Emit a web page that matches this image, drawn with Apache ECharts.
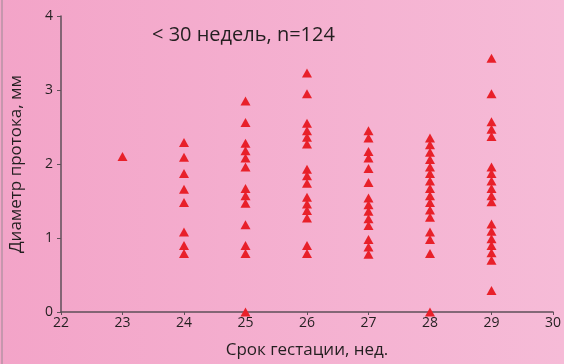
<!DOCTYPE html>
<html><head><meta charset="utf-8">
<script src="https://cdn.jsdelivr.net/npm/echarts@6/dist/echarts.min.js"></script>
<style>html,body{margin:0;padding:0;}#c{width:564px;height:364px;}</style>
</head><body><div id="c"></div>
<script>
const weeks = [23, 24, 25, 26, 27, 28, 29];
const w23 = [2.1];
const w24 = [2.29, 2.09, 1.87, 1.66, 1.48, 1.08, 0.9, 0.79];
const w25 = [2.85, 2.56, 2.28, 2.18, 2.08, 1.96, 1.67, 1.57, 1.47, 1.18, 0.9, 0.79, 0];
const w26 = [3.23, 2.95, 2.55, 2.45, 2.36, 2.27, 1.93, 1.84, 1.74, 1.55, 1.46, 1.37, 1.27, 0.9, 0.79];
const w27 = [2.45, 2.35, 2.17, 2.08, 1.94, 1.75, 1.54, 1.45, 1.36, 1.26, 1.17, 0.98, 0.88, 0.78];
const w28 = [2.35, 2.26, 2.16, 2.06, 1.96, 1.87, 1.77, 1.67, 1.57, 1.48, 1.38, 1.28, 1.08, 0.98, 0.79, 0];
const w29 = [3.43, 2.95, 2.57, 2.47, 2.37, 1.96, 1.87, 1.77, 1.67, 1.57, 1.49, 1.19, 1.09, 0.99, 0.9, 0.8, 0.7, 0.29];
const groups = [w23, w24, w25, w26, w27, w28, w29];
const titleText = '< 30 недель, n=124';
const xName = 'Срок гестации, нед.';
const yName = 'Диаметр протока, мм';

const points = [];
groups.forEach((g, i) => g.forEach(v => points.push([weeks[i], v])));

const font = '"Open Sans", "Noto Sans", sans-serif';
const chart = echarts.init(document.getElementById('c'), null, {renderer: 'canvas'});
chart.setOption({
  backgroundColor: new echarts.graphic.LinearGradient(0, 0, 1, 0, [
    {offset: 0, color: '#f3a4c8'},
    {offset: 1, color: '#f6bbd7'}
  ]),
  animation: false,
  title: {
    text: titleText, left: 147, top: 20,
    textStyle: {fontFamily: font, fontSize: 20, fontWeight: 'normal', color: '#231f20'}
  },
  graphic: [{
    type: 'line', shape: {x1: 2, y1: 0, x2: 2, y2: 364},
    style: {stroke: '#9a8a93', lineWidth: 1}
  }],
  grid: {left: 60, right: 9, top: 16, bottom: 50, containLabel: false},
  xAxis: {
    type: 'value', min: 22, max: 30, interval: 1,
    name: xName, nameLocation: 'middle', nameGap: 30,
    nameTextStyle: {fontFamily: font, fontSize: 17, color: '#231f20'},
    axisLine: {show: true, lineStyle: {color: '#5e4f58', width: 1.5}},
    axisTick: {show: true, length: 3, lineStyle: {color: '#5e4f58'}},
    axisLabel: {fontFamily: font, fontSize: 14, color: '#231f20', margin: 4},
    splitLine: {show: false}
  },
  yAxis: {
    type: 'value', min: 0, max: 4, interval: 1,
    name: yName, nameLocation: 'middle', nameGap: 36, nameRotate: 90,
    nameTextStyle: {fontFamily: font, fontSize: 17, color: '#231f20'},
    axisLine: {show: true, lineStyle: {color: '#5e4f58', width: 1.5}},
    axisTick: {show: true, length: 4, lineStyle: {color: '#5e4f58'}},
    axisLabel: {fontFamily: font, fontSize: 14, color: '#231f20', margin: 8},
    splitLine: {show: false}
  },
  series: [{
    type: 'scatter', data: points, symbol: 'triangle', symbolSize: [10, 9],
    itemStyle: {color: '#e8202a', opacity: 1}
  }]
});
</script>
</body></html>
